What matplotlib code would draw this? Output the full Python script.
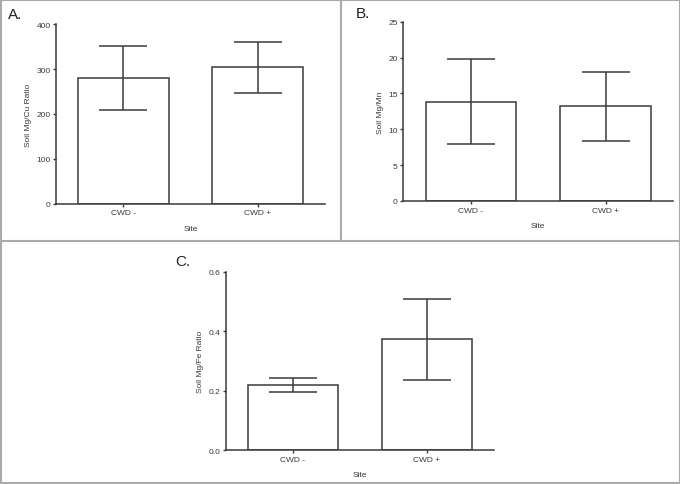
import numpy as np
import matplotlib
matplotlib.use('Agg')
import matplotlib.pyplot as plt
from matplotlib.lines import Line2D

plt.rcParams['font.family'] = ['Liberation Sans', 'DejaVu Sans']

sites = ['CWD -', 'CWD +']

cu_mean = [280, 304]
cu_low = [208, 246]
cu_high = [352, 361]

mn_mean = [13.8, 13.2]
mn_low = [7.95, 8.35]
mn_high = [19.75, 18.05]

fe_mean = [0.219, 0.373]
fe_low = [0.196, 0.235]
fe_high = [0.242, 0.508]

W, H = 680, 485
fig = plt.figure(figsize=(W / 100, H / 100), dpi=100)
fig.patch.set_facecolor('white')

edge = '#3a3a3a'


def px_axes(left, right, top, bottom):
    return fig.add_axes([left / W, 1 - bottom / H, (right - left) / W, (bottom - top) / H])


def panel(ax, mean, low, high, ylim, yticks, ylabel, barw, letter, lx, ly):
    x = np.arange(len(sites))
    mean = np.array(mean)
    err = [mean - np.array(low), np.array(high) - mean]
    ax.bar(x, mean, width=barw, color='white', edgecolor=edge, linewidth=1.1, zorder=2)
    ax.errorbar(x, mean, yerr=err, fmt='none', ecolor=edge, elinewidth=1.1,
                capsize=17, capthick=1.1, zorder=3)
    ax.set_xlim(-0.5, 1.5)
    ax.set_ylim(*ylim)
    ax.set_yticks(yticks)
    ax.set_xticks(x)
    ax.set_xticklabels(sites)
    for s in ['top', 'right']:
        ax.spines[s].set_visible(False)
    for s in ['left', 'bottom']:
        ax.spines[s].set_color(edge)
        ax.spines[s].set_linewidth(1.1)
    ax.tick_params(axis='both', labelsize=6, colors=edge, length=2.5, width=1, pad=1.5)
    ax.set_ylabel(ylabel, fontsize=6, color=edge, labelpad=3)
    ax.set_xlabel('Site', fontsize=6, color=edge, labelpad=6)
    fig.text(lx / W, 1 - ly / H, letter, fontsize=11, color='#222222', va='center', ha='left')


axA = px_axes(56, 325, 25.3, 204.7)
panel(axA, cu_mean, cu_low, cu_high, (0, 400), [0, 100, 200, 300, 400],
      'Soil Mg/Cu Ratio', 0.68, 'A.', 8, 15)

axB = px_axes(403.3, 673, 22.7, 202)
panel(axB, mn_mean, mn_low, mn_high, (0, 25), [0, 5, 10, 15, 20, 25],
      'Soil Mg/Mn', 0.67, 'B.', 356, 14)

axC = px_axes(226, 494, 272.7, 451.3)
panel(axC, fe_mean, fe_low, fe_high, (0, 0.6), [0.0, 0.2, 0.4, 0.6],
      'Soil Mg/Fe Ratio', 0.67, 'C.', 175, 262)
axC.yaxis.set_major_formatter(matplotlib.ticker.FormatStrFormatter('%.1f'))

# panel frames
frame = '#aaaaaa'
def fline(x0, y0, x1, y1):
    fig.add_artist(Line2D([x0 / W, x1 / W], [1 - y0 / H, 1 - y1 / H],
                          color=frame, linewidth=1.5, transform=fig.transFigure))

fline(0.5, 0, 0.5, 484)
fline(679.5, 0, 679.5, 484)
fline(0, 0.5, 680, 0.5)
fline(0, 483.5, 680, 483.5)
fline(0, 242, 680, 242)
fline(340.5, 0, 340.5, 242)

fig.savefig('out.png', dpi=100, facecolor='white')
